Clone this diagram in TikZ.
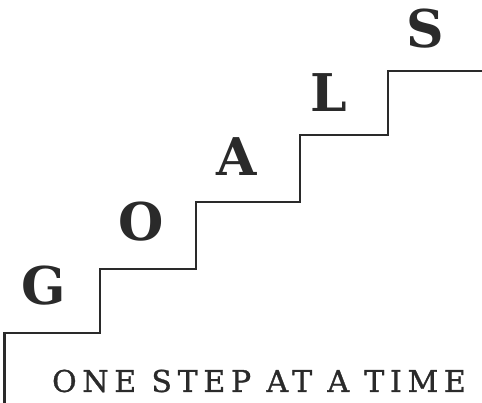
\documentclass[tikz,border=0pt]{standalone}
\usepackage{fontspec}
\newfontfamily\slabfont{DejaVu Serif}
\newfontfamily\tagfont[LetterSpace=19,FakeBold=1]{DejaVu Serif}
\definecolor{ink}{HTML}{2A2A2A}
\begin{document}
\begin{tikzpicture}[x=1pt,y=-1pt,
  letterbox/.style={inner sep=0pt,text=ink,font=\slabfont\bfseries\fontsize{52}{52}\selectfont,anchor=center},
  stairline/.style={draw=ink,line width=2.6pt,line join=miter}]
\useasboundingbox (0,0) rectangle (482,403);
\draw[stairline] (4.5,404) -- (4.5,333) -- (100,333) -- (100,269) -- (196,269) -- (196,202) -- (300,202) -- (300,135) -- (388,135) -- (388,71) -- (483,71);
\node[letterbox] (g) at (44,286) {G};
\node[letterbox] (o) at (141,222) {O};
\node[letterbox] (a) at (237,157) {A};
\node[letterbox] (l) at (329,93) {L};
\node[letterbox] (s) at (425,29) {S};
\node[inner sep=0pt,text=ink,font=\tagfont\fontsize{30}{30}\selectfont] (tag) at (259,381) {ONE STEP AT A TIME};
\end{tikzpicture}
\end{document}
